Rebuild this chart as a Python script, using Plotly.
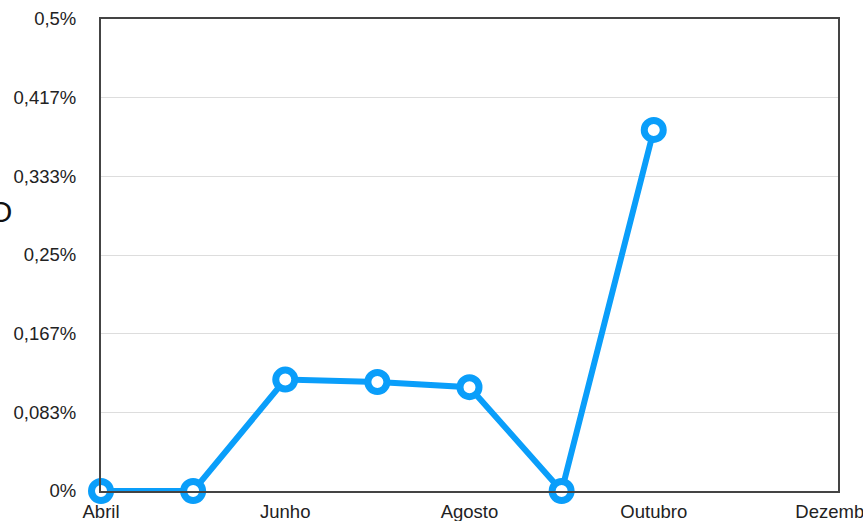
import plotly.graph_objects as go

# Monthly rate (percent)
months = ["Abril", "Maio", "Junho", "Julho", "Agosto", "Setembro",
          "Outubro", "Novembro", "Dezembro"]
values = [0.0, 0.0, 0.118, 0.1155, 0.110, 0.0, 0.3825, None, None]

tick_months = ["Abril", "Junho", "Agosto", "Outubro", "Dezembro"]
y_tickvals = [0, 0.5 / 6, 1 / 6, 0.25, 1 / 3, 2.5 / 6, 0.5]
y_ticktext = ["0%", "0,083%", "0,167%", "0,25%", "0,333%", "0,417%", "0,5%"]

blue = "#0A9EFA"
font_family = "Liberation Sans, Arial, Helvetica, sans-serif"

fig = go.Figure()
fig.add_trace(go.Scatter(
    x=list(range(len(months))),
    y=values,
    mode="lines+markers",
    line=dict(color=blue, width=6),
    marker=dict(size=19, color="white", line=dict(color=blue, width=7)),
    cliponaxis=False,
    showlegend=False,
    connectgaps=False,
))

fig.add_annotation(
    text="O", xref="paper", yref="paper",
    x=-0.137, y=0.593, xanchor="center", yanchor="middle",
    showarrow=False, font=dict(family=font_family, size=30, color="#111"),
)

fig.update_layout(
    width=863, height=521,
    margin=dict(l=101, r=25, t=19, b=30, autoexpand=False),
    paper_bgcolor="white", plot_bgcolor="white",
    font=dict(family=font_family, size=18.5, color="#222"),
)
fig.update_xaxes(
    range=[0, len(months) - 1],
    tickvals=[months.index(m) for m in tick_months],
    ticktext=tick_months,
    showgrid=False, zeroline=False,
    showline=True, linecolor="#444", linewidth=2, mirror=True,
    ticks="", ticklabelstandoff=3,
    automargin=False, ticklabeloverflow="allow",
)
fig.update_yaxes(
    range=[0, 0.5],
    tickvals=y_tickvals, ticktext=y_ticktext,
    showgrid=True, gridcolor="#DDDDDD", gridwidth=1,
    zeroline=False,
    showline=True, linecolor="#444", linewidth=2, mirror=True,
    ticks="", ticklabelstandoff=19,
    automargin=False, ticklabeloverflow="allow",
)

fig.write_html("out.html")
